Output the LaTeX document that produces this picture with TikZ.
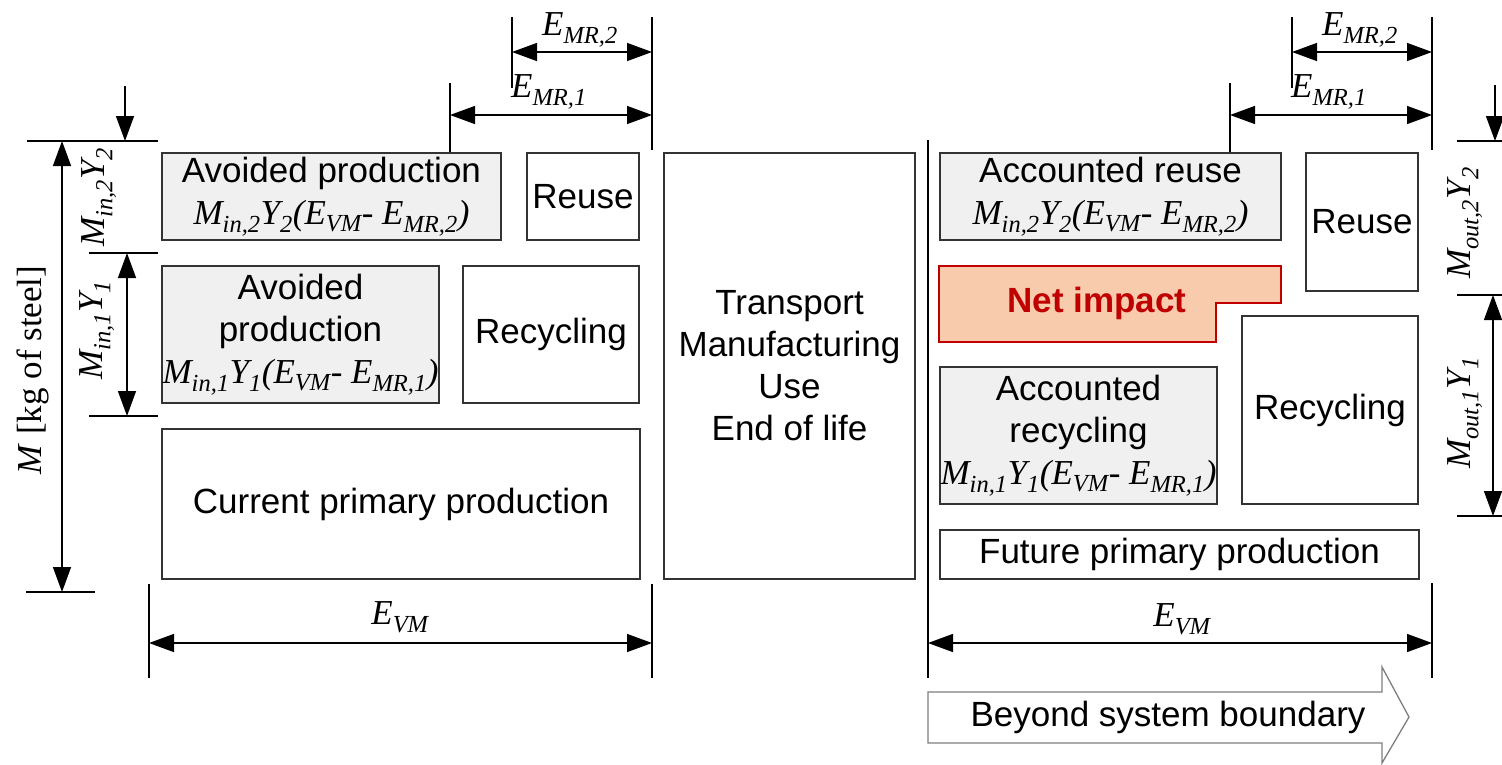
\documentclass[tikz,border=0pt]{standalone}
\usepackage{fontspec}
\setmainfont{Liberation Sans}
\newfontfamily\tms{Liberation Serif}
\usetikzlibrary{arrows.meta}
\definecolor{boxc}{HTML}{333333}
\definecolor{gfill}{HTML}{F0F0F0}
\definecolor{netfill}{HTML}{F8CBAD}
\definecolor{netred}{HTML}{C00000}
\definecolor{arrowgray}{HTML}{7F7F7F}
\newcommand\fm[1]{{\tms\itshape #1}}
\newcommand\sbx[1]{\textsubscript{#1}}
\begin{document}
\begin{tikzpicture}[x=1pt,y=-1pt,
  font=\fontsize{35}{42}\selectfont,
  box/.style={draw=boxc, line width=1.5pt, inner sep=0pt, align=center},
  gbox/.style={box, fill=gfill},
  dim/.style={line width=1.4pt, draw=black},
  tipshape/.style={},
  dimarr/.style={dim, {Triangle[length=25pt,width=18pt]}-{Triangle[length=25pt,width=18pt]}},
  dimone/.style={dim, -{Triangle[length=25pt,width=18pt]}},
  lab/.style={inner sep=0pt, font=\fontsize{35}{40}\selectfont\tms\itshape},
  bigarrow/.style={draw=arrowgray, line width=1.3pt, fill=white}]
\path[fill=white, use as bounding box] (0,0) rectangle (1502,764);

% ---------- left block: current system ----------
\node[gbox, minimum width=339pt, minimum height=87pt] (avoidtop) at (331.5,196.5)
  {Avoided production\\\fm{M\sbx{in,2}Y\sbx{2}(E\sbx{VM}- E\sbx{MR,2})}};
\node[box, minimum width=112pt, minimum height=87pt] (reuseL) at (583,196.5) {Reuse};
\node[gbox, minimum width=277pt, minimum height=137pt] (avoidmid) at (300.5,334.5)
  {Avoided\\production\\\fm{M\sbx{in,1}Y\sbx{1}(E\sbx{VM}- E\sbx{MR,1})}};
\node[box, minimum width=176pt, minimum height=137pt] (recL) at (551,334.5) {Recycling};
\node[box, minimum width=478pt, minimum height=150pt] (cpp) at (401,504) {Current primary production};

% ---------- product life cycle ----------
\node[box, minimum width=251pt, minimum height=426pt] (life) at (789.5,366)
  {Transport\\Manufacturing\\Use\\End of life};

% ---------- right block: beyond the boundary ----------
\node[gbox, minimum width=341pt, minimum height=87pt] (accreuse) at (1110.5,196.5)
  {Accounted reuse\\\fm{M\sbx{in,2}Y\sbx{2}(E\sbx{VM}- E\sbx{MR,2})}};
\node[box, minimum width=112pt, minimum height=138pt] (reuseR) at (1362,222) {Reuse};
\draw[draw=netred, fill=netfill, line width=2.2pt]
  (939,266) -- (1281,266) -- (1281,303) -- (1216,303) -- (1216,342) -- (939,342) -- cycle;
\node[text=netred, font=\fontsize{35}{42}\selectfont\bfseries, inner sep=0pt] (net) at (1097,303) {Net impact};
\node[gbox, minimum width=277pt, minimum height=137pt] (accrec) at (1078.5,435.5)
  {Accounted\\recycling\\\fm{M\sbx{in,1}Y\sbx{1}(E\sbx{VM}- E\sbx{MR,1})}};
\node[box, minimum width=176pt, minimum height=188pt] (recR) at (1330,410) {Recycling};
\node[box, minimum width=479pt, minimum height=49pt] (fpp) at (1179.5,554.5) {Future primary production};

% ---------- left dimensions ----------
\coordinate (eL1t) at (450,83);
\coordinate (eL2t) at (512,17);
\coordinate (eL2b) at (512,88);
\coordinate (bLt) at (652,17);
\coordinate (bLb) at (652,150);
\draw[dim] (eL1t) -- (eL1t |- avoidtop.north);
\draw[dim] (eL2t) -- (eL2b);
\draw[dim] (bLt) -- (bLb);
\coordinate (mr2a) at (512,52);  \coordinate (mr2b) at (652,52);
\coordinate (mr1a) at (450,115); \coordinate (mr1b) at (652,115);
\draw[dimarr] (mr2a) -- (mr2b);
\draw[dimarr] (mr1a) -- (mr1b);
\node[lab] (lmr2) at (580,30) {E\sbx{MR,2}};
\node[lab] (lmr1) at (549,92) {E\sbx{MR,1}};

\coordinate (tx1) at (27,141);  \coordinate (tx2) at (158,141);
\coordinate (mx1) at (89,253);  \coordinate (mx2) at (158,253);
\coordinate (bx1) at (89,416);  \coordinate (bx2) at (158,416);
\coordinate (fx1) at (26,592);  \coordinate (fx2) at (95,592);
\draw[dim] (tx1) -- (tx2);
\draw[dim] (mx1) -- (mx2);
\draw[dim] (bx1) -- (bx2);
\draw[dim] (fx1) -- (fx2);
\coordinate (m2s) at (125,86); \coordinate (m2e) at (125,141);
\draw[dimone] (m2s) -- (m2e);
\coordinate (m1s) at (127,253); \coordinate (m1e) at (127,416);
\draw[dimarr] (m1s) -- (m1e);
\coordinate (ms) at (62,141); \coordinate (me) at (62,592);
\draw[dimarr] (ms) -- (me);
\node[lab, rotate=90] (lmin2) at (99,197) {M\sbx{in,2}Y\sbx{2}};
\node[lab, rotate=90] (lmin1) at (97,330) {M\sbx{in,1}Y\sbx{1}};
\node[lab, rotate=90, font=\fontsize{35}{40}\selectfont\tms] (lm) at (33,370) {\textit{M} [kg of steel]};

\coordinate (vL1t) at (149,584); \coordinate (vL1b) at (149,678);
\coordinate (vL2t) at (652,584); \coordinate (vL2b) at (652,678);
\draw[dim] (vL1t) -- (vL1b);
\draw[dim] (vL2t) -- (vL2b);
\coordinate (evLa) at (149,643); \coordinate (evLb) at (652,643);
\draw[dimarr] (evLa) -- (evLb);
\node[lab] (levL) at (400,617) {E\sbx{VM}};

% ---------- right dimensions ----------
\coordinate (sysb-t) at (928,140); \coordinate (sysb-b) at (928,678);
\draw[dim] (sysb-t) -- (sysb-b);
\coordinate (eR1t) at (1230,83);
\coordinate (eR2t) at (1292,17); \coordinate (eR2b) at (1292,88);
\coordinate (bRt) at (1432,17); \coordinate (bRb) at (1432,150);
\draw[dim] (eR1t) -- (eR1t |- accreuse.north);
\draw[dim] (eR2t) -- (eR2b);
\draw[dim] (bRt) -- (bRb);
\coordinate (rmr2a) at (1292,52);  \coordinate (rmr2b) at (1432,52);
\coordinate (rmr1a) at (1230,115); \coordinate (rmr1b) at (1432,115);
\draw[dimarr] (rmr2a) -- (rmr2b);
\draw[dimarr] (rmr1a) -- (rmr1b);
\node[lab] (rlmr2) at (1360,30) {E\sbx{MR,2}};
\node[lab] (rlmr1) at (1329,92) {E\sbx{MR,1}};

\coordinate (rtx1) at (1457,141); \coordinate (rtx2) at (1502,141);
\coordinate (rmx1) at (1457,295); \coordinate (rmx2) at (1502,295);
\coordinate (rbx1) at (1457,516); \coordinate (rbx2) at (1502,516);
\draw[dim] (rtx1) -- (rtx2);
\draw[dim] (rmx1) -- (rmx2);
\draw[dim] (rbx1) -- (rbx2);
\coordinate (o2s) at (1495,85); \coordinate (o2e) at (1495,141);
\draw[dimone] (o2s) -- (o2e);
\coordinate (o1s) at (1493,295); \coordinate (o1e) at (1493,516);
\draw[dimarr] (o1s) -- (o1e);
\node[lab, rotate=90] (lmo2) at (1465,223) {M\sbx{out,2}Y\sbx{2}};
\node[lab, rotate=90] (lmo1) at (1465,413) {M\sbx{out,1}Y\sbx{1}};

\coordinate (vR2t) at (1432,583); \coordinate (vR2b) at (1432,678);
\draw[dim] (vR2t) -- (vR2b);
\coordinate (evRa) at (928,643); \coordinate (evRb) at (1432,643);
\draw[dimarr] (evRa) -- (evRb);
\node[lab] (levR) at (1182,619) {E\sbx{VM}};

% ---------- system boundary arrow ----------
\draw[bigarrow] (928,692) -- (1382,692) -- (1382,667) -- (1409,717)
  -- (1382,763) -- (1382,743) -- (928,743) -- cycle;
\node[inner sep=0pt] (beyond) at (1168,717) {Beyond system boundary};
\end{tikzpicture}
\end{document}
